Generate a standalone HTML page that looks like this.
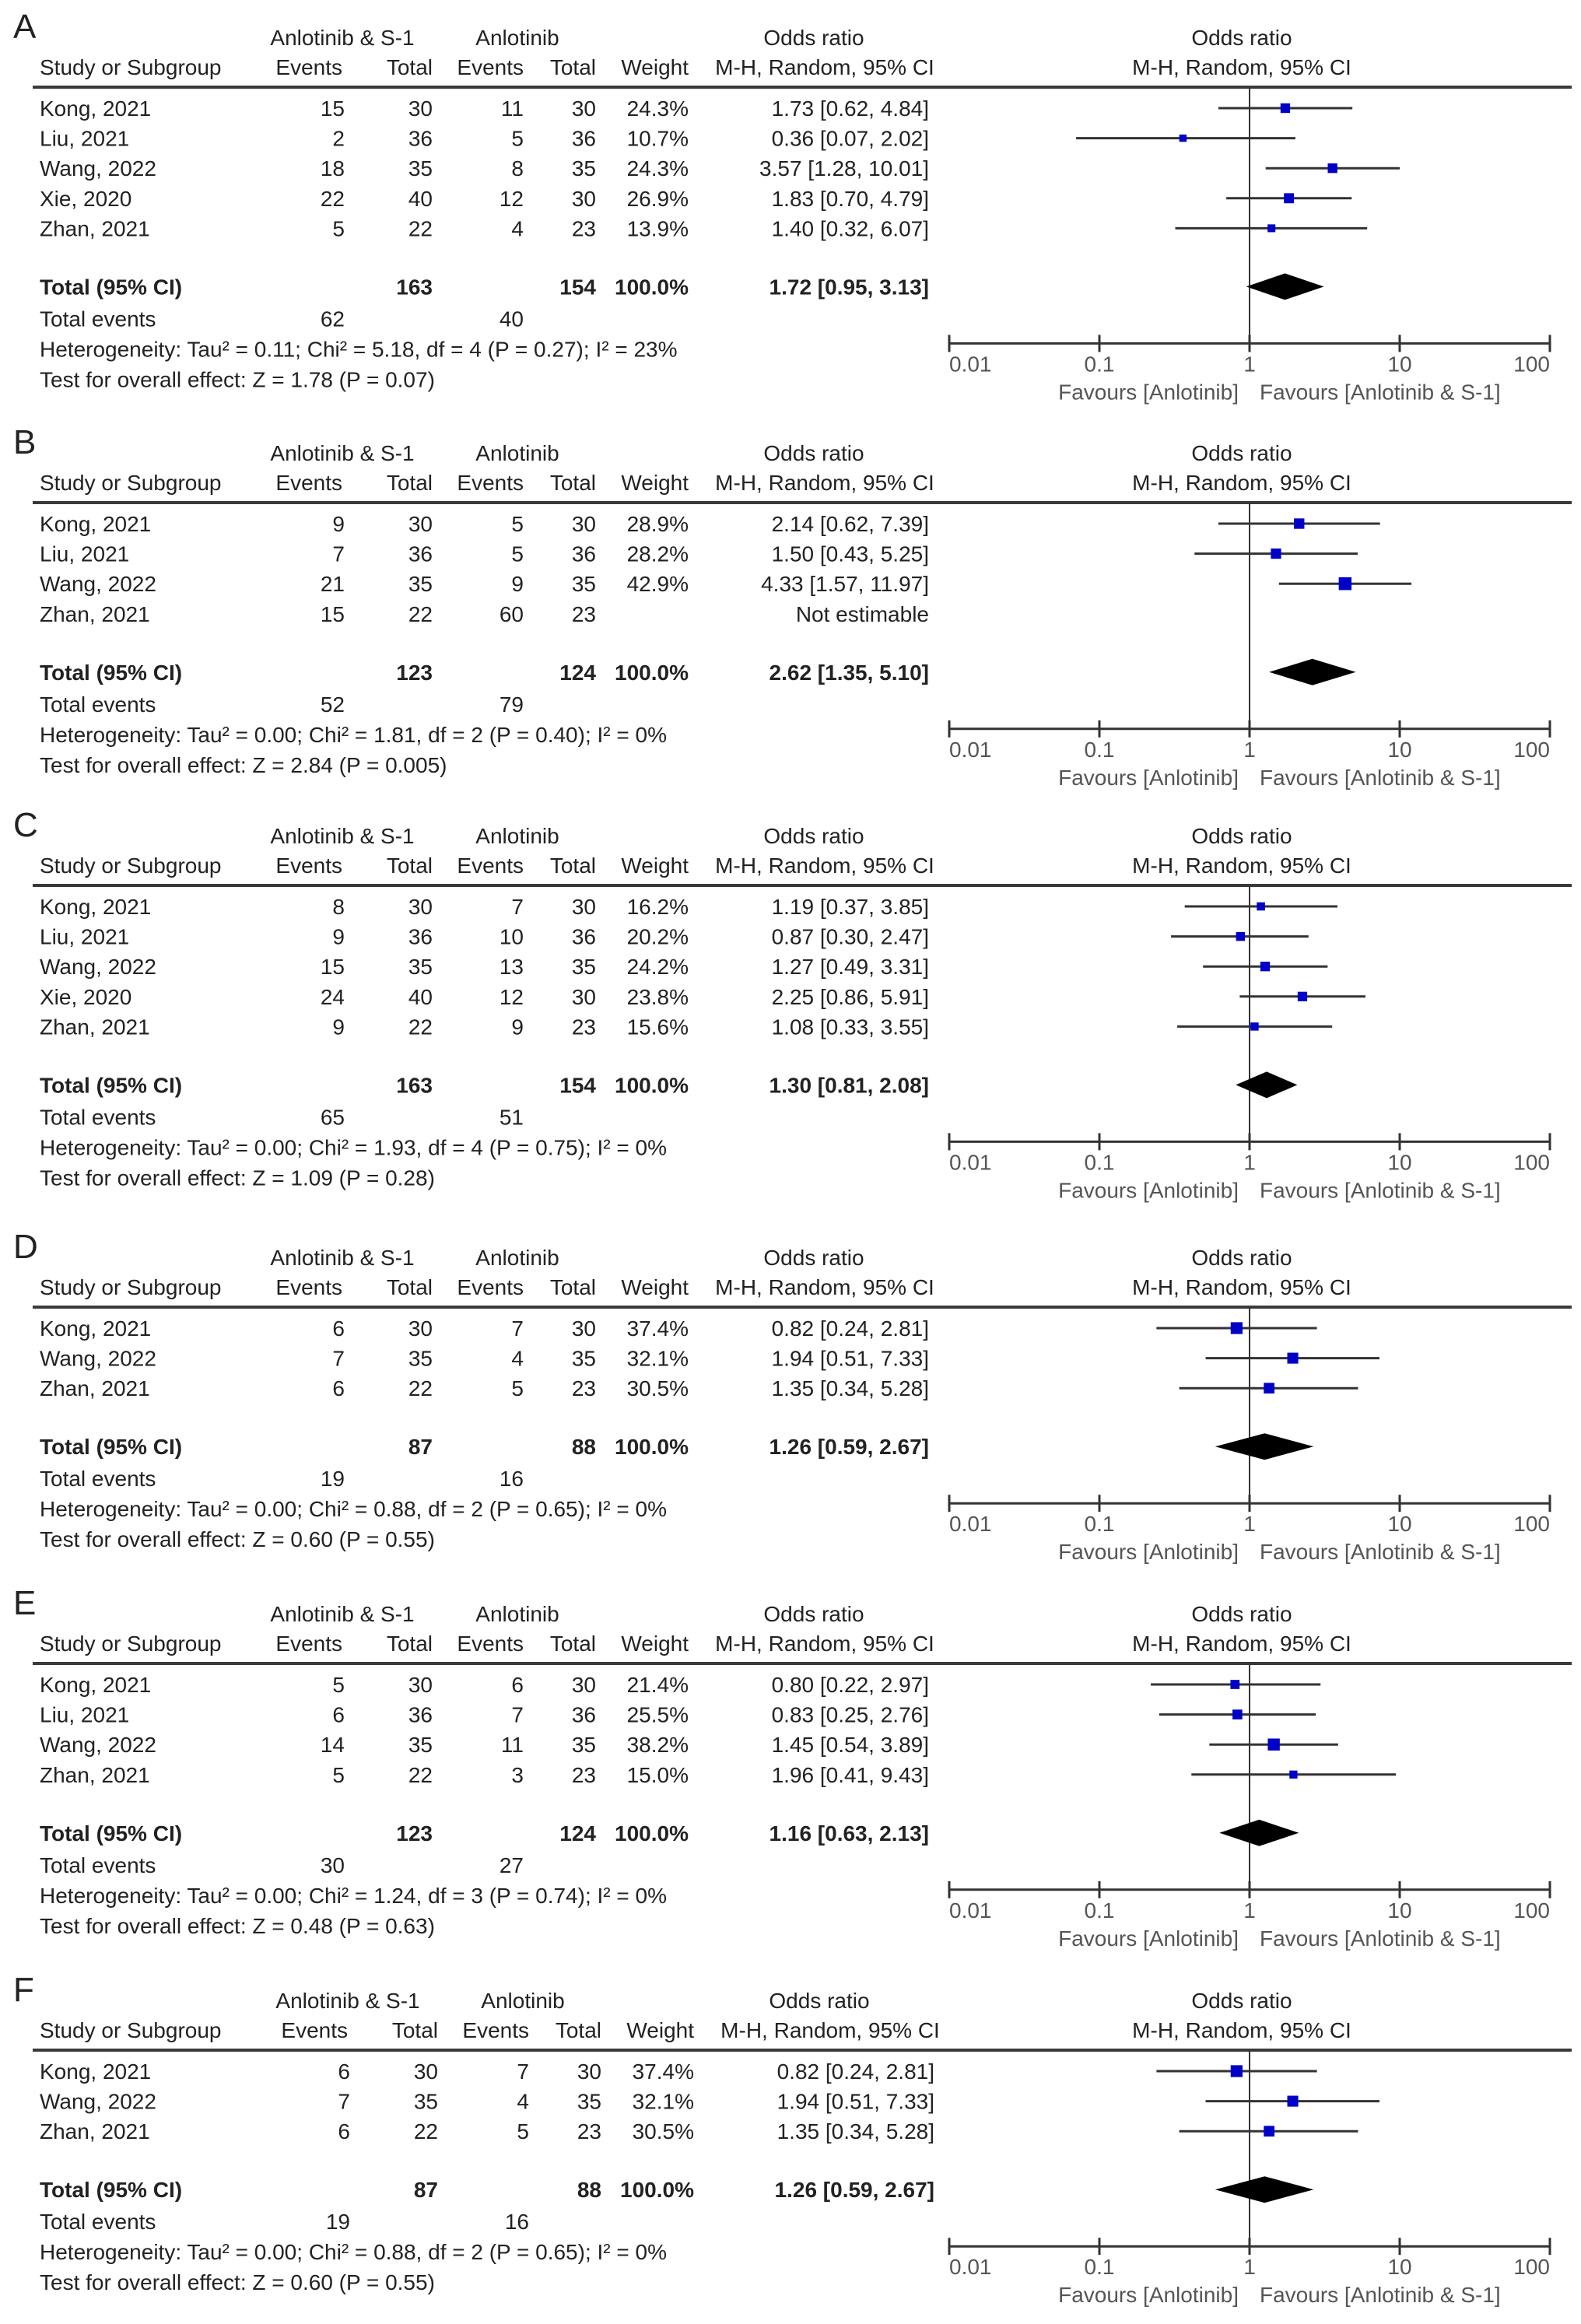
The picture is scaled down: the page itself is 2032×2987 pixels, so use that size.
<!DOCTYPE html>
<html><head><meta charset="utf-8">
<style>
html,body{margin:0;padding:0;background:#fff;}
svg{display:block;}
text{font-family:"Liberation Sans",Arial,sans-serif;font-size:28px;fill:#222;}
</style></head>
<body>
<svg id="chart" width="2032" height="2987" viewBox="0 0 2032 2987" xmlns="http://www.w3.org/2000/svg"></svg>
<script>
// ---------- Panel A ----------
const studyA=["Kong, 2021","Liu, 2021","Wang, 2022","Xie, 2020","Zhan, 2021"];
const ev1A=[15,2,18,22,5]; const tot1A=[30,36,35,40,22];
const ev2A=[11,5,8,12,4]; const tot2A=[30,36,35,30,23];
const wA=[24.3,10.7,24.3,26.9,13.9];
const orA=[1.73,0.36,3.57,1.83,1.40]; const loA=[0.62,0.07,1.28,0.70,0.32]; const hiA=[4.84,2.02,10.01,4.79,6.07];
const totA=[163,154,1.72,0.95,3.13]; const tevA=[62,40];
const hetA="Heterogeneity: Tau² = 0.11; Chi² = 5.18, df = 4 (P = 0.27); I² = 23%";
const zA="Test for overall effect: Z = 1.78 (P = 0.07)";
// ---------- Panel B ----------
const studyB=["Kong, 2021","Liu, 2021","Wang, 2022","Zhan, 2021"];
const ev1B=[9,7,21,15]; const tot1B=[30,36,35,22];
const ev2B=[5,5,9,60]; const tot2B=[30,36,35,23];
const wB=[28.9,28.2,42.9,null];
const orB=[2.14,1.50,4.33,null]; const loB=[0.62,0.43,1.57,null]; const hiB=[7.39,5.25,11.97,null];
const totB=[123,124,2.62,1.35,5.10]; const tevB=[52,79];
const hetB="Heterogeneity: Tau² = 0.00; Chi² = 1.81, df = 2 (P = 0.40); I² = 0%";
const zB="Test for overall effect: Z = 2.84 (P = 0.005)";
// ---------- Panel C ----------
const studyC=["Kong, 2021","Liu, 2021","Wang, 2022","Xie, 2020","Zhan, 2021"];
const ev1C=[8,9,15,24,9]; const tot1C=[30,36,35,40,22];
const ev2C=[7,10,13,12,9]; const tot2C=[30,36,35,30,23];
const wC=[16.2,20.2,24.2,23.8,15.6];
const orC=[1.19,0.87,1.27,2.25,1.08]; const loC=[0.37,0.30,0.49,0.86,0.33]; const hiC=[3.85,2.47,3.31,5.91,3.55];
const totC=[163,154,1.30,0.81,2.08]; const tevC=[65,51];
const hetC="Heterogeneity: Tau² = 0.00; Chi² = 1.93, df = 4 (P = 0.75); I² = 0%";
const zC="Test for overall effect: Z = 1.09 (P = 0.28)";
// ---------- Panel D ----------
const studyD=["Kong, 2021","Wang, 2022","Zhan, 2021"];
const ev1D=[6,7,6]; const tot1D=[30,35,22];
const ev2D=[7,4,5]; const tot2D=[30,35,23];
const wD=[37.4,32.1,30.5];
const orD=[0.82,1.94,1.35]; const loD=[0.24,0.51,0.34]; const hiD=[2.81,7.33,5.28];
const totD=[87,88,1.26,0.59,2.67]; const tevD=[19,16];
const hetD="Heterogeneity: Tau² = 0.00; Chi² = 0.88, df = 2 (P = 0.65); I² = 0%";
const zD="Test for overall effect: Z = 0.60 (P = 0.55)";
// ---------- Panel E ----------
const studyE=["Kong, 2021","Liu, 2021","Wang, 2022","Zhan, 2021"];
const ev1E=[5,6,14,5]; const tot1E=[30,36,35,22];
const ev2E=[6,7,11,3]; const tot2E=[30,36,35,23];
const wE=[21.4,25.5,38.2,15.0];
const orE=[0.80,0.83,1.45,1.96]; const loE=[0.22,0.25,0.54,0.41]; const hiE=[2.97,2.76,3.89,9.43];
const totE=[123,124,1.16,0.63,2.13]; const tevE=[30,27];
const hetE="Heterogeneity: Tau² = 0.00; Chi² = 1.24, df = 3 (P = 0.74); I² = 0%";
const zE="Test for overall effect: Z = 0.48 (P = 0.63)";
// ---------- Panel F ----------
const studyF=["Kong, 2021","Wang, 2022","Zhan, 2021"];
const ev1F=[6,7,6]; const tot1F=[30,35,22];
const ev2F=[7,4,5]; const tot2F=[30,35,23];
const wF=[37.4,32.1,30.5];
const orF=[0.82,1.94,1.35]; const loF=[0.24,0.51,0.34]; const hiF=[2.81,7.33,5.28];
const totF=[87,88,1.26,0.59,2.67]; const tevF=[19,16];
const hetF="Heterogeneity: Tau² = 0.00; Chi² = 0.88, df = 2 (P = 0.65); I² = 0%";
const zF="Test for overall effect: Z = 0.60 (P = 0.55)";

const tickVals=[0.01,0.1,1,10,100];
const tickLabels=["0.01","0.1","1","10","100"];

const panels=[
 {id:"A",top:48,dx:0,study:studyA,ev1:ev1A,tot1:tot1A,ev2:ev2A,tot2:tot2A,w:wA,or:orA,lo:loA,hi:hiA,tot:totA,tev:tevA,het:hetA,z:zA},
 {id:"B",top:582,dx:0,study:studyB,ev1:ev1B,tot1:tot1B,ev2:ev2B,tot2:tot2B,w:wB,or:orB,lo:loB,hi:hiB,tot:totB,tev:tevB,het:hetB,z:zB},
 {id:"C",top:1074,dx:0,study:studyC,ev1:ev1C,tot1:tot1C,ev2:ev2C,tot2:tot2C,w:wC,or:orC,lo:loC,hi:hiC,tot:totC,tev:tevC,het:hetC,z:zC},
 {id:"D",top:1616,dx:0,study:studyD,ev1:ev1D,tot1:tot1D,ev2:ev2D,tot2:tot2D,w:wD,or:orD,lo:loD,hi:hiD,tot:totD,tev:tevD,het:hetD,z:zD},
 {id:"E",top:2074,dx:0,study:studyE,ev1:ev1E,tot1:tot1E,ev2:ev2E,tot2:tot2E,w:wE,or:orE,lo:loE,hi:hiE,tot:totE,tev:tevE,het:hetE,z:zE},
 {id:"F",top:2571,dx:7,study:studyF,ev1:ev1F,tot1:tot1F,ev2:ev2F,tot2:tot2F,w:wF,or:orF,lo:loF,hi:hiF,tot:totF,tev:tevF,het:hetF,z:zF}
];

const svg=document.getElementById('chart');
const NS="http://www.w3.org/2000/svg";
const X1=1606, DEC=193;
function xScale(v){return X1+DEC*Math.log10(v);}
function el(tag,attrs,parent){const e=document.createElementNS(NS,tag);for(const k in attrs)e.setAttribute(k,attrs[k]);(parent||svg).appendChild(e);return e;}
function txt(g,x,y,s,anchor,opts){const t=el('text',{x:x,y:y+10,'text-anchor':anchor||'start'},g);t.textContent=s;
 if(opts&&opts.bold)t.setAttribute('font-weight','bold');
 if(opts&&opts.fill)t.style.fill=opts.fill;
 if(opts&&opts.size)t.style.fontSize=opts.size+'px';
 return t;}
const f2=v=>v.toFixed(2);
function ciStr(o,l,h){return f2(o)+" ["+f2(l)+", "+f2(h)+"]";}

panels.forEach(p=>{
 const g=el('g',{});
 
 
 const T=p.top, d=p.dx;
 const lab=txt(g,17,T-9,p.id,'start',{size:44});
 
 
 const h=el('g',{},g);
 
 
 txt(h,440+d,T,"Anlotinib & S-1",'middle');
 txt(h,665+d,T,"Anlotinib",'middle');
 txt(h,1046+d,T,"Odds ratio",'middle');
 txt(h,1596,T,"Odds ratio",'middle');
 const H2=T+38;
 txt(h,51,H2,"Study or Subgroup");
 txt(h,440+d,H2,"Events",'end');
 txt(h,556+d,H2,"Total",'end');
 txt(h,673+d,H2,"Events",'end');
 txt(h,766+d,H2,"Total",'end');
 txt(h,885+d,H2,"Weight",'end');
 txt(h,1060+d,H2,"M-H, Random, 95% CI",'middle');
 txt(h,1596,H2,"M-H, Random, 95% CI",'middle');
 const rule=el('line',{x1:42,x2:2020,y1:T+64,y2:T+64,stroke:'#3a3a3a','stroke-width':4},g);
 
 
 const n=p.study.length;
 const rowY=i=>T+91+i*38.6;
 const totY=rowY(n-1)+75;
 const axisY=totY+73;
 const nl=el('line',{x1:xScale(1),x2:xScale(1),y1:T+64,y2:axisY,stroke:'#333','stroke-width':2},g);
 
 
 for(let i=0;i<n;i++){
  const y=rowY(i);
  const r=el('g',{},g);
  
  
  txt(r,51,y,p.study[i]);
  txt(r,443+d,y,String(p.ev1[i]),'end');
  txt(r,556+d,y,String(p.tot1[i]),'end');
  txt(r,673+d,y,String(p.ev2[i]),'end');
  txt(r,766+d,y,String(p.tot2[i]),'end');
  if(p.or[i]==null){
   txt(r,1194+d,y,"Not estimable",'end');
   continue;
  }
  txt(r,885+d,y,p.w[i].toFixed(1)+"%",'end');
  txt(r,1194+d,y,ciStr(p.or[i],p.lo[i],p.hi[i]),'end');
  const ci=el('line',{x1:xScale(p.lo[i]),x2:xScale(p.hi[i]),y1:y,y2:y,stroke:'#333','stroke-width':3},r);
  
  
  const s=7+22*p.w[i]/100;
  const sq=el('rect',{x:xScale(p.or[i])-s/2,y:y-s/2,width:s,height:s,fill:'#0000c8'},r);
  
  
 }
 const tr=el('g',{},g);
 
 
 txt(tr,51,totY,"Total (95% CI)",'start',{bold:1});
 txt(tr,556+d,totY,String(p.tot[0]),'end',{bold:1});
 txt(tr,766+d,totY,String(p.tot[1]),'end',{bold:1});
 txt(tr,885+d,totY,"100.0%",'end',{bold:1});
 txt(tr,1194+d,totY,ciStr(p.tot[2],p.tot[3],p.tot[4]),'end',{bold:1});
 const dl=xScale(p.tot[3]),dc=xScale(p.tot[2]),dr=xScale(p.tot[4]);
 const dia=el('polygon',{points:`${dl},${totY} ${dc},${totY-17} ${dr},${totY} ${dc},${totY+17}`,fill:'#000'},tr);
 
 
 const ev=el('g',{},g);
 
 
 txt(ev,51,totY+41,"Total events");
 txt(ev,443+d,totY+41,String(p.tev[0]),'end');
 txt(ev,673+d,totY+41,String(p.tev[1]),'end');
 const ht=txt(g,51,totY+80,p.het);
 
 
 const zt=txt(g,51,totY+119,p.z);
 
 
 const ax=el('g',{},g);
 
 
 el('line',{x1:xScale(0.01),x2:xScale(100),y1:axisY,y2:axisY,stroke:'#333','stroke-width':3},ax);
 tickVals.forEach((v,k)=>{
  const x=xScale(v);
  const tk=el('line',{x1:x,x2:x,y1:axisY-11,y2:axisY+11,stroke:'#333','stroke-width':3},ax);
  
  
  const anc=k===0?'start':(k===tickVals.length-1?'end':'middle');
  txt(ax,x,axisY+26,tickLabels[k],anc,{fill:'#555'});
 });
 const fl=txt(ax,1592,axisY+62,"Favours [Anlotinib]",'end',{fill:'#555'});
 
 
 const fr=txt(ax,1619,axisY+62,"Favours [Anlotinib & S-1]",'start',{fill:'#555'});
 
 
});
</script>
</body></html>
